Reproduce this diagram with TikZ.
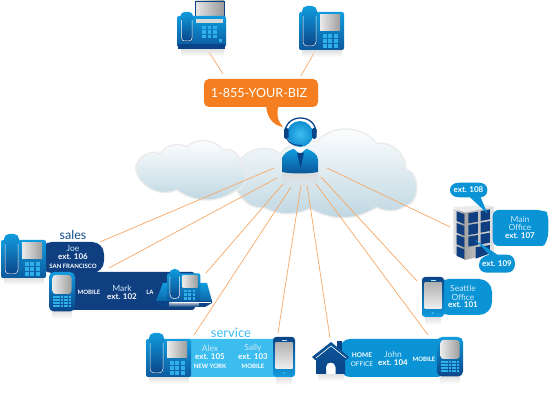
\documentclass[tikz,border=0pt]{standalone}
\usepackage{fontspec}
\usetikzlibrary{fadings}
\setmainfont{Lato}
\definecolor{navy}{HTML}{0F3F80}
\definecolor{midblue}{HTML}{0A94D6}
\definecolor{skyb}{HTML}{3CBDF0}
\definecolor{bright}{HTML}{109CDE}
\definecolor{deep}{HTML}{0A4488}
\definecolor{keyb}{HTML}{2FB0EA}
\definecolor{wire}{HTML}{F7A866}
\definecolor{orangeb}{HTML}{F57F20}
\definecolor{lightname}{HTML}{CFE9F8}
\definecolor{cloudb}{HTML}{BDD6E1}
\definecolor{cloudedge}{HTML}{EBEBEB}
\tikzset{
  wireline/.style={draw=wire,line width=0.7pt},
  lname/.style={inner sep=0,text=lightname,font=\fontsize{8.5}{9}\selectfont},
  lext/.style={inner sep=0,text=white,font=\bfseries\fontsize{8}{9}\selectfont},
  lcap/.style={inner sep=0,text=white,font=\bfseries\fontsize{6}{7}\selectfont},
  cloudshape/.style={draw=cloudedge,line width=1.3pt,top color=white,middle color=white,bottom color=cloudb},
  glass/.style={left color=black!8,right color=black!38},
  reflect/.style={fill=black!12,path fading=south,draw=none},
  bodyshade/.style={top color=bright,middle color=bright!92!deep,bottom color=deep!75!bright},
  deskphone/.pic={
    \path[reflect] (3,44) rectangle (43,51);
    \path[bodyshade,rounded corners=2] (0,6) rectangle (45,44);
    \path[top color=bright,middle color=bright!70!deep,bottom color=deep,rounded corners=5] (3,0) rectangle (18,41);
    \draw[white,line width=.5pt,rounded corners=4] (4,10) -- (4,40) -- (17,40) -- (17,10);
    \path[glass] (21,9) rectangle (41,25);
    \foreach \i in {0,1,2}{\foreach \j in {0,1,2}{
      \fill[keyb] (23.5+\i*5.5,28+\j*5) rectangle ++(4,3.6);}}
  },
  smartphone/.pic={
    \path[reflect] (3,40) rectangle (19,48);
    \path[top color=deep,bottom color=bright,rounded corners=3] (0,0) rectangle (22,40);
    \path[top color=black!30,bottom color=black!6] (2.5,6) rectangle (19.5,32);
    \fill[white!70!bright] (8.5,2.8) rectangle (13.5,3.6);
    \fill[keyb] (9.7,34.7) rectangle (12.3,37.2);
  },
  berry/.pic={
    \path[reflect] (3,39) rectangle (23,47);
    \path[top color=bright,bottom color=deep,rounded corners=5] (0,0) rectangle (26,39.5);
    \path[glass,rounded corners=3] (3.5,3) rectangle (22.5,22);
    \foreach \j in {0,1,2,3}{\foreach \i in {0,...,6}{
      \fill[keyb] (3.7+\i*2.7,24+\j*2.9) rectangle ++(2.1,2.2);}}
  },
}
\begin{document}
\begin{tikzpicture}[x=1pt,y=-1pt]
\useasboundingbox (0,0) rectangle (550,419);
\fill[white] (0,0) rectangle (550,419);

% clouds
\begin{scope}[shift={(120,130)},x=0.3333pt,y=-0.3333pt]
\path[cloudshape] (352,110) to[bend left=60] (480,72) to[bend left=30] (590,35)
  to[bend left=50] (770,40) to[bend left=50] (858,118) to[bend left=80] (860,226)
  to[bend left=30] (770,232) to[bend left=30] (570,236) to[bend left=25] (430,232)
  to[bend left=70] (352,110) -- cycle;
\path[cloudshape] (48,122) to[bend left=70] (120,72) to[bend left=40] (200,50)
  to[bend left=45] (310,60) to[bend left=60] (362,105) to[bend left=75] (350,180)
  to[bend left=35] (170,180) to[bend left=50] (48,122) -- cycle;
\end{scope}

% free ends of connectors
\coordinate (hubA) at (274,168); \coordinate (endA) at (100,242);
\coordinate (hubB) at (277,178); \coordinate (endB) at (109,268);
\coordinate (hubC) at (283,184); \coordinate (endC) at (206,273);
\coordinate (hubD) at (291,187); \coordinate (endD) at (194,335);
\coordinate (hubE) at (301,185); \coordinate (endE) at (278,333);
\coordinate (hubF) at (307,185); \coordinate (endF) at (330,338);
\coordinate (hubG) at (316,184); \coordinate (endG) at (428,335);
\coordinate (hubH) at (321,177); \coordinate (endH) at (417,281);
\coordinate (hubI) at (327,168); \coordinate (endI) at (450,227);
\coordinate (faxEnd) at (209,52); \coordinate (bubL) at (223,74);
\coordinate (telEnd) at (314,53); \coordinate (bubR) at (301,76);
\foreach \a/\b in {hubA/endA,hubB/endB,hubC/endC,hubD/endD,hubE/endE,hubF/endF,hubG/endG,hubH/endH,hubI/endI,faxEnd/bubL,telEnd/bubR}
  \draw[wireline] (\a) -- (\b);

% fax
\path[reflect] (181,49) rectangle (224,56);
\path[left color=black!10,right color=black!40,draw=deep,line width=.5pt] (195.5,1) rectangle (224,17);
\path[bodyshade,rounded corners=2] (177,16) rectangle (226,47);
\fill[deep] (178,44) rectangle (225,49);
\path[top color=bright,bottom color=deep,rounded corners=4] (180.5,12) rectangle (193,42);
\draw[white,line width=.5pt,rounded corners=3] (181.5,20) -- (181.5,41) -- (192,41) -- (192,20);
\fill[black!15] (196,19) rectangle (223,23);
\foreach \i in {0,1,2}{\foreach \j in {0,1,2}{
  \fill[keyb] (202+\i*5.5,26+\j*4.5) rectangle ++(3.8,3.2);}}
\fill[keyb] (219,39) rectangle (222,42);

% top phone
\pic at (299,6) {deskphone};

% orange callout
\path[fill=orangeb,rounded corners=5] (204,79) rectangle (318,107);
\fill[orangeb] (266,105) .. controls (267,118) and (273,125) .. (283,127)
   .. controls (277,120) and (276,113) .. (279,105) -- cycle;
\node[inner sep=0,text=white,font=\fontsize{12.6}{14}\selectfont] (number) at (259,93) {1-855-YOUR-BIZ};

% agent
\path[fill=black!14,path fading=south] (282,172) rectangle (318,186);
\path[top color=bright,bottom color=deep!80!bright]
  (282,172) -- (282,160) .. controls (282,154) and (288,151) .. (293,149) -- (307,149)
  .. controls (312,151) and (318,154) .. (318,160) -- (318,172)
  .. controls (308,174) and (292,174) .. (282,172) -- cycle;
\fill[white] (293,148) -- (307,148) -- (300,154) -- cycle;
\fill[deep] (297,153) -- (304,153) -- (300.5,168) -- cycle;
\draw[deep,line width=1.3pt] (285,133) .. controls (285,113) and (316,113) .. (316,133);
\path[inner color=skyb,outer color=bright!85!deep] (300,134) circle (13);
\fill[deep,rounded corners=1.5] (284,128) rectangle (288.5,139);
\fill[deep,rounded corners=1.5] (312,128) rectangle (316.5,139);
\draw[deep,line width=1pt,line cap=round] (287,139) .. controls (289,144) and (295,145.5) .. (302,145.5);

% sales
\node[inner sep=0,text=navy!85!bright,font=\fontsize{12.5}{14}\selectfont] (salesT) at (73,235) {sales};
\fill[navy,rounded corners=12] (40,242) -- (104,242) -- (104,273) -- (40,273) -- cycle;
\fill[navy,rounded corners=3] (60,272) -- (195,272) -- (195,310) -- (60,310) -- cycle;
\pic at (1,234) {deskphone};
\pic at (49,272) {berry};
\node[lname] (joe) at (73,248) {Joe};
\node[lext] (joeExt) at (73,257) {ext. 106};
\node[lcap] (joeCity) at (73,266) {SAN FRANCISCO};
\node[lcap] (markMob) at (89,292) {MOBILE};
\node[lname] (mark) at (122,288) {Mark};
\node[lext] (markExt) at (122,297) {ext. 102};
\node[lcap] (markCity) at (150,292) {LA};
% LA stand
\path[top color=bright,bottom color=deep!60!bright] (163,283) -- (207,283) -- (212,301) -- (156,301) -- cycle;
\fill[deep] (156,301) -- (212,301) -- (212,303) -- (205,307) -- (160,307) -- cycle;
\pic[scale=0.74] at (167,269) {deskphone};
\draw[white,line width=.6pt] (172,302.5) -- (211,302.5);

% service
\node[inner sep=0,text=skyb,font=\fontsize{13}{14}\selectfont] (serviceT) at (231,333) {service};
\fill[skyb,rounded corners=4] (185,339) rectangle (278,377);
\pic at (146,333) {deskphone};
\pic at (273,337) {smartphone};
\node[lname] (alex) at (210,348) {Alex};
\node[lext] (alexExt) at (210,357) {ext. 105};
\node[lcap] (alexCity) at (210,366) {NEW YORK};
\node[lname] (sally) at (253,348) {Sally};
\node[lext] (sallyExt) at (253,357) {ext. 103};
\node[lcap] (sallyCity) at (253,366) {MOBILE};

% home office
\fill[midblue,rounded corners=10] (340,339) rectangle (447,377);
\path[reflect] (318,374) rectangle (344,381);
\fill[deep] (337,341) rectangle (342,352);
\path[top color=deep!80!bright,bottom color=deep]
  (331,342) -- (349,357) -- (346,360) -- (345,360) -- (345,374) -- (335.5,374) -- (335.5,367)
  .. controls (335.5,361) and (326,361) .. (326,367) -- (326,374) -- (316,374) -- (316,360) -- (315,360) -- (312,357) -- cycle;
\draw[white,line width=.6pt] (316,358) -- (331,346) -- (346,358);
\pic at (437,337) {berry};
\node[lcap,font=\bfseries\fontsize{6.5}{7}\selectfont] (home) at (362,355) {HOME};
\node[lcap,font=\fontsize{6.5}{7}\selectfont] (office) at (362,364) {OFFICE};
\node[lname] (john) at (393,354) {John};
\node[lext] (johnExt) at (393,363) {ext. 104};
\node[lcap] (johnMob) at (424,359) {MOBILE};

% Seattle
\path[fill=midblue,rounded corners=13] (436,279) -- (492,279) -- (492,315) -- (436,315) -- cycle;
\pic at (422,277) {smartphone};
\node[lname] (seaA) at (463,288) {Seattle};
\node[lname] (seaB) at (463,297) {Office};
\node[lext] (seaC) at (463,305) {ext. 101};

% building
\begin{scope}[shift={(410,170)},x=0.3333pt,y=-0.3333pt]
\fill[black!8] (130,112) -- (165,128) -- (252,110) -- (225,105) -- cycle;
\path[left color=black!10,right color=black!45] (130,115) -- (165,128) -- (165,270) -- (130,250) -- cycle;
\path[left color=black!35,right color=black!10] (165,128) -- (252,110) -- (252,250) -- (165,270) -- cycle;
\foreach \y in {0,35,70,105}
  \fill[navy] (140,124+\y) -- (163,133+\y) -- (163,162+\y) -- (140,153+\y) -- cycle;
\foreach \y in {0,35,70}{
  \fill[navy] (175,130+\y) -- (204,125+\y) -- (204,155+\y) -- (175,160+\y) -- cycle;
  \fill[navy] (212,123+\y) -- (240,118+\y) -- (240,148+\y) -- (212,153+\y) -- cycle;}
\fill[navy] (197,232) -- (240,225) -- (240,250) -- (197,266) -- cycle;
% callouts
\fill[midblue,rounded corners=6] (248,120) -- (395,120) .. controls (408,125) and (415,140) .. (415,165)
  .. controls (415,205) and (405,228) .. (380,228) -- (248,228) -- cycle;
\fill[midblue] (120,60) .. controls (120,46) and (132,38) .. (148,38) -- (205,38)
  .. controls (222,38) and (232,46) .. (232,60) .. controls (232,72) and (226,80) .. (212,82)
  -- (232,130) -- (180,82) -- (148,82) .. controls (132,82) and (120,74) .. (120,60) -- cycle;
\fill[midblue] (207,285) .. controls (207,266) and (222,258) .. (238,254) -- (195,210) -- (262,254)
  -- (290,254) .. controls (306,254) and (315,265) .. (315,281)
  .. controls (315,298) and (306,308) .. (290,308) -- (232,308)
  .. controls (216,308) and (207,300) .. (207,285) -- cycle;
\end{scope}
\node[lext] (b108) at (468.5,190) {ext. 108};
\node[lext] (b109) at (497,263.5) {ext. 109};
\node[lname] (mainA) at (520,219) {Main};
\node[lname] (mainB) at (520,227.5) {Office};
\node[lext] (mainC) at (520,236) {ext. 107};
\end{tikzpicture}
\end{document}
